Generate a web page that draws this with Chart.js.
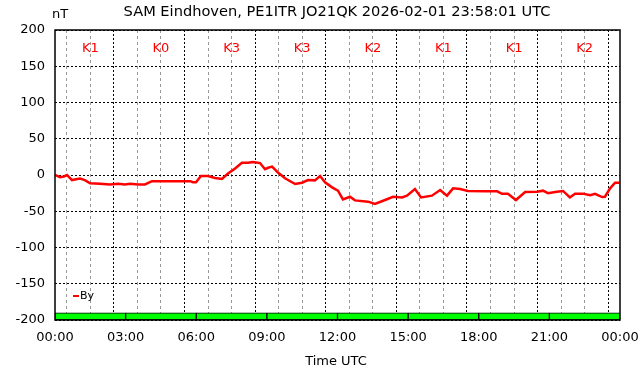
<!DOCTYPE html>
<html>
<head>
<meta charset="utf-8">
<script src="https://cdn.jsdelivr.net/npm/chart.js@4"></script>
<style>
  html, body { margin: 0; padding: 0; background: #fff; }
  #wrap { width: 642px; height: 376px; }
</style>
</head>
<body>
<div id="wrap"><canvas id="chart" width="642" height="376"></canvas></div>
<script>
// By component (nT) against hours UTC
const hours = [
  0, 0.21, 0.38, 0.51, 0.72, 1.06, 1.27, 1.49, 1.91, 2.34, 2.68, 2.97, 3.19, 3.53, 3.82,
  4.12, 4.89, 5.74, 5.86, 5.99, 6.2, 6.5, 6.8, 7.09, 7.35, 7.65, 7.94, 8.2, 8.41, 8.71,
  8.92, 9.05, 9.22, 9.47, 9.77, 10.2, 10.49, 10.75, 11.04, 11.26, 11.47, 11.77, 12.02,
  12.23, 12.53, 12.74, 13.3, 13.59, 14.02, 14.36, 14.74, 14.95, 15.29, 15.55, 16.01,
  16.36, 16.65, 16.91, 17.21, 17.54, 18.27, 18.78, 18.99, 19.24, 19.58, 19.97, 20.48,
  20.73, 20.94, 21.32, 21.58, 21.87, 22.09, 22.43, 22.73, 22.94, 23.24, 23.36, 23.58,
  23.79, 23.97,
];
const byValues = [
  0, -3, -2, 0, -7, -5, -7, -11.5, -12, -13, -12, -13, -12, -13, -13,
  -8.5, -8.5, -8.5, -10, -10, -1.5, -1.5, -4, -5.5, 2, 9, 17, 17, 18, 16.5,
  8, 10, 11.5, 3.5, -4.6, -12.4, -10.6, -7, -7.4, -1.4, -10, -17, -21.6,
  -33.6, -30, -35, -36.8, -40, -34.5, -30, -31, -28.5, -19.3, -31, -28.5,
  -20.7, -28.5, -18.4, -19.3, -22, -22.5, -22.5, -26, -26, -34.5, -23.4, -23,
  -21.6, -25, -23, -22, -31, -25.7, -25.7, -28, -26, -30.4, -30, -18.4,
  -10.6, -10.6,
];

// 3-hour K index blocks
const kCenters = [1.5, 4.5, 7.5, 10.5, 13.5, 16.5, 19.5, 22.5];
const kLabels = ["K1", "K0", "K3", "K3", "K2", "K1", "K1", "K2"];
const kBarRange = [-200, -190];
const kLabelLevel = 174;

const xTickLabels = ["00:00", "03:00", "06:00", "09:00", "12:00", "15:00", "18:00", "21:00", "00:00"];
const yTicks = [-200, -150, -100, -50, 0, 50, 100, 150, 200];

const FONT = "'DejaVu Sans', sans-serif";

const overlayPlugin = {
  id: "overlay",
  afterDatasetsDraw(chart) {
    const { ctx, chartArea, scales } = chart;
    ctx.save();
    // K labels
    ctx.fillStyle = "#ff0000";
    ctx.font = `13px ${FONT}`;
    ctx.textAlign = "center";
    ctx.textBaseline = "middle";
    kLabels.forEach((label, i) => {
      ctx.fillText(label, scales.x.getPixelForValue(kCenters[i]), scales.y.getPixelForValue(kLabelLevel));
    });
    // frame
    ctx.strokeStyle = "#000";
    ctx.lineWidth = 1.5;
    ctx.strokeRect(chartArea.left, chartArea.top, chartArea.right - chartArea.left, chartArea.bottom - chartArea.top);
    // legend
    ctx.strokeStyle = "#ff0000";
    ctx.lineWidth = 2;
    ctx.beginPath();
    ctx.moveTo(73, 296);
    ctx.lineTo(79, 296);
    ctx.stroke();
    ctx.fillStyle = "#000";
    ctx.font = `11px ${FONT}`;
    ctx.textAlign = "left";
    ctx.fillText("By", 80, 296);
    ctx.restore();
  },
  afterDraw(chart) {
    const { ctx } = chart;
    ctx.save();
    ctx.fillStyle = "#000";
    ctx.textBaseline = "middle";
    ctx.textAlign = "center";
    ctx.font = `14.6px ${FONT}`;
    ctx.fillText("SAM Eindhoven, PE1ITR JO21QK 2026-02-01 23:58:01 UTC", 337, 12);
    ctx.font = `13px ${FONT}`;
    ctx.fillText("nT", 60, 15);
    ctx.fillText("Time UTC", 336, 362);
    ctx.restore();
  },
};

new Chart(document.getElementById("chart"), {
  data: {
    datasets: [
      {
        type: "line",
        label: "By",
        data: hours.map((h, i) => ({ x: h, y: byValues[i] })),
        borderColor: "#ff0000",
        borderWidth: 2.5,
        pointRadius: 0,
        tension: 0,
        order: 0,
      },
      {
        type: "bar",
        label: "K",
        data: kCenters.map((c) => ({ x: c, y: kBarRange })),
        backgroundColor: "#00ff00",
        borderColor: "#000",
        borderWidth: 1,
        borderSkipped: false,
        barThickness: "flex",
        barPercentage: 1,
        categoryPercentage: 1,
        order: 1,
      },
    ],
  },
  options: {
    responsive: false,
    animation: false,
    layout: { padding: { left: 0, right: 22, top: 30, bottom: 0 } },
    plugins: {
      legend: { display: false },
      tooltip: { enabled: false },
      title: { display: false },
    },
    scales: {
      x: {
        type: "linear",
        min: 0,
        max: 24,
        offset: false,
        afterFit: (s) => {
          s.height = 56;
          s.paddingLeft = 0;
          s.paddingRight = 0;
        },
        afterBuildTicks: (s) => {
          s.ticks = [];
          for (let i = 0; i <= 24; i++) s.ticks.push({ value: i });
        },
        ticks: {
          autoSkip: false,
          maxRotation: 0,
          padding: 10,
          color: "#000",
          font: { family: FONT, size: 13 },
          callback: (v) => (v % 3 === 0 ? xTickLabels[v / 3] : ""),
        },
        grid: {
          drawTicks: false,
          lineWidth: 1,
          color: (c) => (c.tick && c.tick.value % 3 === 0 ? "#000" : "#999"),
        },
        border: {
          display: false,
          dash: (c) => (c.tick && c.tick.value % 3 === 0 ? [2, 2] : [3, 3]),
        },
      },
      y: {
        min: -200,
        max: 200,
        afterFit: (s) => { s.width = 55; },
        afterBuildTicks: (s) => { s.ticks = yTicks.map((v) => ({ value: v })); },
        ticks: {
          padding: 10,
          color: "#000",
          font: { family: FONT, size: 13 },
        },
        grid: { drawTicks: false, color: "#000", lineWidth: 1 },
        border: { display: false, dash: [2, 2] },
      },
    },
  },
  plugins: [overlayPlugin],
});
</script>
</body>
</html>
